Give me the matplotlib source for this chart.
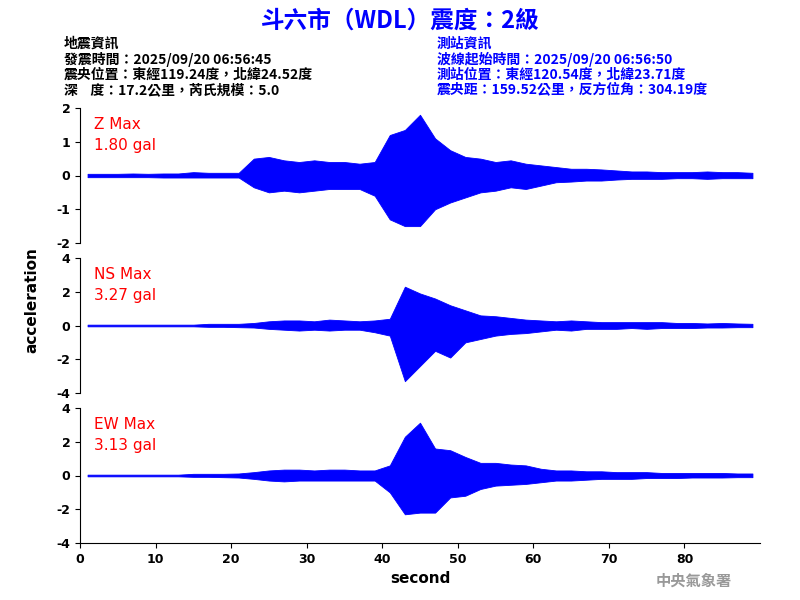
import numpy as np
import matplotlib.pyplot as plt

plt.rcParams['font.family'] = ['Noto Sans CJK TC', 'DejaVu Sans']

# envelope of each trace, read every 2 s (t = 0, 2, ..., 88)
t = np.arange(0, 90, 2)
z_up = [0.05, 0.05, 0.05, 0.06, 0.05, 0.06, 0.06, 0.1, 0.08, 0.08, 0.08, 0.5, 0.55, 0.45, 0.4, 0.45,
        0.4, 0.4, 0.35, 0.4, 1.2, 1.35, 1.8, 1.1, 0.75, 0.55, 0.5, 0.4, 0.45, 0.35, 0.3, 0.25,
        0.2, 0.2, 0.18, 0.15, 0.12, 0.12, 0.1, 0.1, 0.1, 0.12, 0.1, 0.1, 0.08]
z_lo = [-0.05, -0.05, -0.05, -0.05, -0.05, -0.06, -0.06, -0.06, -0.06, -0.06, -0.06, -0.35, -0.5, -0.45, -0.5, -0.45,
        -0.4, -0.4, -0.4, -0.6, -1.3, -1.5, -1.5, -1.0, -0.8, -0.65, -0.5, -0.45, -0.35, -0.4, -0.3, -0.2,
        -0.18, -0.15, -0.15, -0.12, -0.1, -0.1, -0.1, -0.08, -0.08, -0.1, -0.08, -0.08, -0.08]
ns_up = [0.05, 0.05, 0.05, 0.05, 0.05, 0.05, 0.05, 0.05, 0.1, 0.1, 0.1, 0.15, 0.25, 0.3, 0.3, 0.25,
         0.35, 0.3, 0.25, 0.3, 0.4, 2.3, 1.9, 1.6, 1.2, 0.9, 0.6, 0.55, 0.45, 0.35, 0.3, 0.25,
         0.3, 0.25, 0.2, 0.2, 0.2, 0.2, 0.2, 0.15, 0.15, 0.12, 0.15, 0.12, 0.1]
ns_lo = [-0.05, -0.05, -0.05, -0.05, -0.05, -0.05, -0.05, -0.05, -0.08, -0.08, -0.1, -0.12, -0.2, -0.25, -0.3, -0.25,
         -0.3, -0.25, -0.25, -0.4, -0.6, -3.3, -2.4, -1.5, -1.9, -1.0, -0.8, -0.6, -0.5, -0.45, -0.35, -0.25,
         -0.3, -0.2, -0.2, -0.2, -0.15, -0.2, -0.15, -0.15, -0.15, -0.12, -0.12, -0.1, -0.1]
ew_up = [0.05, 0.05, 0.05, 0.05, 0.05, 0.05, 0.05, 0.1, 0.1, 0.1, 0.12, 0.2, 0.3, 0.35, 0.35, 0.3,
         0.35, 0.35, 0.3, 0.3, 0.6, 2.3, 3.13, 1.6, 1.5, 1.1, 0.75, 0.75, 0.65, 0.6, 0.4, 0.3,
         0.3, 0.25, 0.25, 0.2, 0.2, 0.2, 0.15, 0.15, 0.15, 0.15, 0.15, 0.12, 0.12]
ew_lo = [-0.05, -0.05, -0.05, -0.05, -0.05, -0.05, -0.05, -0.08, -0.08, -0.1, -0.12, -0.2, -0.3, -0.35, -0.3, -0.3,
         -0.3, -0.3, -0.3, -0.3, -1.0, -2.3, -2.2, -2.2, -1.3, -1.2, -0.8, -0.6, -0.55, -0.5, -0.4, -0.3,
         -0.3, -0.25, -0.2, -0.2, -0.2, -0.15, -0.15, -0.15, -0.12, -0.12, -0.12, -0.1, -0.1]

traces = [('Z Max', '1.80 gal', z_up, z_lo, 2),
          ('NS Max', '3.27 gal', ns_up, ns_lo, 4),
          ('EW Max', '3.13 gal', ew_up, ew_lo, 4)]

num_font = dict(family='DejaVu Sans', fontweight='bold', fontsize=9)

fig = plt.figure(figsize=(8, 6), dpi=100)
tops = [108, 258, 408]
for i, (name, peak, up, lo, lim) in enumerate(traces):
    ax = fig.add_axes([0.1, 1 - (tops[i] + 135) / 600, 0.85, 135 / 600])
    ax.fill_between(t + 1, lo, up, color='blue', lw=0.6)
    ax.set_xlim(0, 90)
    ax.set_ylim(-lim, lim)
    ticks = np.linspace(-lim, lim, 5)
    ax.set_yticks(ticks)
    ax.set_yticklabels([str(int(v)) for v in ticks], **num_font)
    for s in ['top', 'right']:
        ax.spines[s].set_visible(False)
    ax.text(0.02, 0.93, name, transform=ax.transAxes, color='red', fontsize=11, va='top', family='DejaVu Sans')
    ax.text(0.02, 0.78, peak, transform=ax.transAxes, color='red', fontsize=11, va='top', family='DejaVu Sans')
    if i < 2:
        ax.spines['bottom'].set_visible(False)
        ax.set_xticks([])
    else:
        ax.set_xticks(range(0, 90, 10))
        ax.set_xticklabels([str(v) for v in range(0, 90, 10)], **num_font)
        ax.set_xlabel('second', fontsize=11, fontweight='bold', family='DejaVu Sans')

fig.text(0.04, 0.5, 'acceleration', rotation=90, va='center', ha='center', fontsize=11,
         fontweight='bold', family='DejaVu Sans')
fig.text(0.5, 0.965, '斗六市（WDL）震度：2級', ha='center', va='center', color='blue', fontsize=17, fontweight='bold')

left_lines = ['地震資訊', '發震時間：2025/09/20 06:56:45', '震央位置：東經119.24度，北緯24.52度',
              '深    度：17.2公里，芮氏規模：5.0']
right_lines = ['測站資訊', '波線起始時間：2025/09/20 06:56:50', '測站位置：東經120.54度，北緯23.71度',
               '震央距：159.52公里，反方位角：304.19度']
for k, (a, b) in enumerate(zip(left_lines, right_lines)):
    y = 1 - (44 + k * 15.5) / 600
    fig.text(0.08, y, a, fontsize=10, fontweight='bold', va='center')
    fig.text(0.546, y, b, fontsize=10, fontweight='bold', va='center', color='blue')

fig.text(0.82, 0.033, '中央氣象署', fontsize=11, fontweight='bold', color='#999999', va='center')
fig.savefig('out.png', dpi=100)
